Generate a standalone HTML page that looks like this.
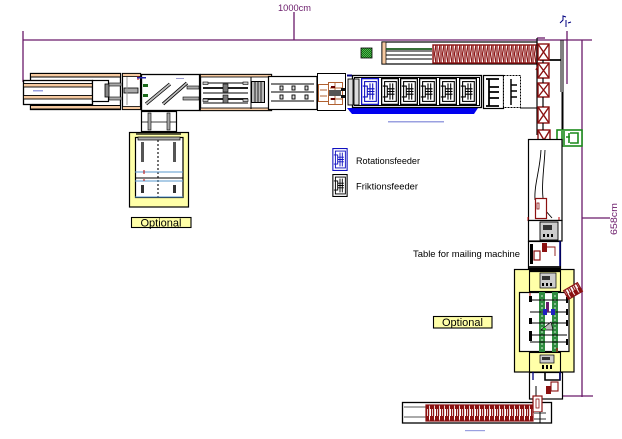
<!DOCTYPE html>
<html><head><meta charset="utf-8"><style>
html,body{margin:0;padding:0;background:#fff;}
svg{display:block;}
text{font-family:"Liberation Sans",sans-serif;}
</style></head><body>
<svg width="622" height="439" viewBox="0 0 622 439" xmlns="http://www.w3.org/2000/svg">
<defs>
<symbol id="feed" viewBox="0 0 20 30">
<rect x="0.7" y="0.7" width="18.6" height="28.6" fill="#fff" stroke="currentColor" stroke-width="1.4"/>
<rect x="4" y="4" width="13" height="22" fill="none" stroke="currentColor" stroke-width="1.2"/>
<path d="M2 9H7V21H2M7 12H15M7 15H15M7 18H15M10 6V24M13 6V24" fill="none" stroke="currentColor" stroke-width="1.2"/>
</symbol>
<pattern id="chk" width="2" height="2" patternUnits="userSpaceOnUse"><rect width="2" height="2" fill="#1a6a1a"/><rect width="1" height="1" fill="#4cc04c"/><rect x="1" y="1" width="1" height="1" fill="#4cc04c"/></pattern>
<pattern id="zig" width="4" height="18" patternUnits="userSpaceOnUse"><rect width="4" height="18" fill="#fff"/><path d="M1 0V18M2.5 0L4 9L2.5 18" stroke="#8b1111" stroke-width="1.3" fill="none"/></pattern>
<pattern id="bar" width="5" height="16" patternUnits="userSpaceOnUse"><rect width="5" height="16" fill="#fff"/><rect x="0" y="0" width="4" height="9" fill="#8b1111"/><rect x="1" y="9" width="1.2" height="7" fill="#8b1111"/><rect x="3" y="3" width="1.2" height="13" fill="#8b1111"/></pattern>
</defs>

<!-- dimension lines -->
<g stroke="#6a1a6a" stroke-width="1.3" fill="none">
<path d="M23 40H592"/>
<path d="M23 31V82"/>
<path d="M294 12V40"/>
<path d="M567 31V84"/>
<path d="M582 40V397"/>
<path d="M555 396H593"/>
<path d="M582 218H610"/>
<path d="M537 38H545"/>
</g>
<text x="278" y="11" font-size="9.5" fill="#6a1a6a" textLength="33" lengthAdjust="spacingAndGlyphs">1000cm</text>
<text x="0" y="0" font-size="9.5" fill="#6a1a6a" transform="translate(617,235) rotate(-90)" textLength="32" lengthAdjust="spacingAndGlyphs">658cm</text>
<!-- compass -->
<path d="M560 23L563 20L563 16L566 17M566 20V27M568 23L571 22" stroke="#000080" stroke-width="1" fill="none"/>

<!-- A -->
<rect x="30.5" y="73.5" width="90" height="36" fill="#fff" stroke="#000" stroke-width="1.3"/>
<rect x="30.5" y="73.5" width="90" height="3.5" fill="#f5c9a0" stroke="#000" stroke-width="1"/>
<rect x="30.5" y="105.5" width="90" height="3.5" fill="#f5c9a0" stroke="#000" stroke-width="1"/>
<rect x="23.5" y="80.5" width="69" height="24" fill="#fff" stroke="#000" stroke-width="1.3"/>
<rect x="23.5" y="83.5" width="69" height="3.5" fill="#f5c9a0" stroke="#000" stroke-width="0.9"/>
<rect x="23.5" y="95.5" width="69" height="3.5" fill="#f5c9a0" stroke="#000" stroke-width="0.9"/>
<rect x="33" y="90" width="10" height="1.5" fill="#9aa0e0"/>
<rect x="92.5" y="80.5" width="16" height="21" fill="#fff" stroke="#000" stroke-width="1.2"/>
<rect x="105" y="84" width="4" height="13" fill="#888" stroke="#000" stroke-width="0.8"/>
<rect x="109" y="83" width="12" height="3" fill="#aaa" stroke="#000" stroke-width="0.6"/>
<rect x="109" y="97" width="12" height="3" fill="#aaa" stroke="#000" stroke-width="0.6"/>
<!-- B -->
<rect x="122.5" y="73.5" width="18" height="36" fill="#fff" stroke="#000" stroke-width="1.2"/>
<rect x="122.5" y="73.5" width="18" height="3" fill="#f5c9a0" stroke="#000" stroke-width="0.8"/>
<rect x="122.5" y="106.5" width="18" height="3" fill="#f5c9a0" stroke="#000" stroke-width="0.8"/>
<rect x="124" y="88" width="14" height="5" fill="#aaa" stroke="#000" stroke-width="0.8"/>
<path d="M127 77V105" stroke="#999" stroke-width="1"/>
<path d="M138 76V80" stroke="#b00" stroke-width="1"/>
<!-- C -->
<rect x="141.5" y="74.5" width="58.5" height="36" fill="#fff" stroke="#000" stroke-width="1.3"/>
<path d="M200 74V111" stroke="#000" stroke-width="2.2"/>
<rect x="143" y="84" width="5" height="3" fill="#1a6a1a"/>
<rect x="143" y="94" width="5" height="3" fill="#1a6a1a"/>
<path d="M146 104L170 84M163 104L187 83" stroke="#000" stroke-width="3.4"/>
<path d="M146 104L170 84M163 104L187 83" stroke="#bbb" stroke-width="1.8"/>
<rect x="187" y="86" width="12" height="3" fill="#aaa" stroke="#000" stroke-width="0.6"/>
<rect x="183" y="97" width="16" height="3" fill="#aaa" stroke="#000" stroke-width="0.6"/>
<rect x="137" y="77" width="9" height="1.5" fill="#22a"/>
<rect x="176" y="78" width="8" height="1" fill="#99c"/>
<!-- D -->
<rect x="200.5" y="74.5" width="71" height="36" fill="#fff" stroke="#000" stroke-width="1.3"/>
<rect x="200.5" y="74.5" width="71" height="2.5" fill="#f5c9a0" stroke="#000" stroke-width="0.8"/>
<rect x="200.5" y="108" width="71" height="2.5" fill="#f5c9a0" stroke="#000" stroke-width="0.8"/>
<path d="M203 83H248M203 93H248M203 103H248M251 77V109" stroke="#000" stroke-width="1" fill="none"/>
<path d="M203 88H248M203 99H248" stroke="#000" stroke-width="1.8"/>
<rect x="203" y="82" width="5" height="2.5" fill="#ccc" stroke="#000" stroke-width="0.6"/>
<rect x="243" y="82" width="5" height="2.5" fill="#ccc" stroke="#000" stroke-width="0.6"/>
<rect x="203" y="99" width="5" height="2.5" fill="#ccc" stroke="#000" stroke-width="0.6"/>
<rect x="243" y="99" width="5" height="2.5" fill="#ccc" stroke="#000" stroke-width="0.6"/>
<rect x="223" y="84" width="5" height="8" fill="#777" stroke="#000" stroke-width="0.6"/>
<rect x="223" y="95" width="5" height="8" fill="#777" stroke="#000" stroke-width="0.6"/>
<rect x="251.5" y="81.5" width="13" height="21" fill="#bbb" stroke="#000" stroke-width="1"/>
<path d="M255 82V102M258 82V102M261 82V102" stroke="#222" stroke-width="1"/>
<!-- E -->
<rect x="268.5" y="76.5" width="48.5" height="33" fill="#fff" stroke="#000" stroke-width="1.2"/>
<path d="M271 84H314M271 92H314M271 101H314" stroke="#000" stroke-width="1"/>
<g fill="#ddd" stroke="#000" stroke-width="0.9">
<rect x="280" y="86" width="3" height="4"/><rect x="292" y="86" width="3" height="4"/><rect x="305" y="86" width="3" height="4"/>
<rect x="280" y="95" width="3" height="4"/><rect x="292" y="95" width="3" height="4"/><rect x="305" y="95" width="3" height="4"/>
</g>
<!-- F -->
<rect x="317.5" y="73.5" width="28" height="37" fill="#fff" stroke="#000" stroke-width="1"/>
<rect x="318.5" y="84.5" width="10" height="17" fill="none" stroke="#b06030" stroke-width="1"/>
<rect x="328.5" y="82.5" width="14" height="22" fill="none" stroke="#b06030" stroke-width="1"/>
<path d="M320 90H327M320 96H327M335 83V104M330 88H342M330 99H342" stroke="#b06030" stroke-width="0.9"/>
<rect x="329" y="90" width="12" height="6" fill="#555"/>
<rect x="331" y="86" width="4" height="2" fill="#600"/>
<rect x="331" y="98" width="4" height="2" fill="#600"/>
<rect x="341" y="88" width="4" height="3" fill="#111"/>
<rect x="341" y="95" width="4" height="3" fill="#111"/>
<!-- G feeders -->
<path d="M347 75H352M347 76H352" stroke="#000080" stroke-width="1"/>
<path d="M347 108H478L474 114H352Z" fill="#0000ee"/>
<rect x="352.5" y="75.5" width="129" height="32" fill="#fff" stroke="#000" stroke-width="1.3"/>
<rect x="354.5" y="77.5" width="125" height="28" fill="none" stroke="#000" stroke-width="1"/>
<rect x="348" y="79" width="5" height="26" fill="#ddd" stroke="#000" stroke-width="0.9"/>
<rect x="354" y="79" width="5" height="26" fill="#ddd" stroke="#000" stroke-width="0.9"/>
<use href="#feed" x="361" y="78" width="18" height="27" color="#1010c0"/>
<use href="#feed" x="381" y="78" width="18" height="27" color="#000"/>
<use href="#feed" x="400" y="78" width="18" height="27" color="#000"/>
<use href="#feed" x="419" y="78" width="18" height="27" color="#000"/>
<use href="#feed" x="439" y="78" width="18" height="27" color="#000"/>
<use href="#feed" x="459" y="78" width="18" height="27" color="#000"/>
<rect x="388" y="121" width="56" height="1.5" fill="#9aa0e0"/>
<!-- H -->
<rect x="483.5" y="75.5" width="20" height="33" fill="#fff" stroke="#000" stroke-width="1.2"/>
<path d="M486 79H499M489 79V106M486 106H499M489 87H499M489 92H499M489 98H499" stroke="#000" stroke-width="1.8"/>
<rect x="503.5" y="75.5" width="17" height="32" fill="#fff" stroke="#000" stroke-dasharray="2 1" stroke-width="1"/>
<path d="M511 79V105M511 85H517M511 91H517M511 97H517" stroke="#000" stroke-width="1.5"/>
<path d="M520 108H537" stroke="#000" stroke-width="1"/>

<!-- top long brown element -->
<rect x="382" y="42" width="155" height="22" fill="#fff" stroke="#000" stroke-width="1.2"/>
<rect x="382" y="42" width="4" height="22" fill="#f5c9a0" stroke="#000" stroke-width="0.7"/>
<path d="M386 51H432M386 55H432M386 59H432" stroke="#000" stroke-width="1"/>
<path d="M386 49H432" stroke="#1a5a1a" stroke-width="1.8"/>
<rect x="433" y="45" width="104" height="18" fill="url(#zig)" stroke="#8b1111" stroke-width="1.4"/>
<rect x="361" y="48" width="11" height="10" fill="url(#chk)" stroke="#000" stroke-width="0.8"/>

<!-- right column lines -->
<path d="M537 38V135" stroke="#000" stroke-width="1.2"/>
<path d="M561 40V92M562 92V140M563 40V130" stroke="#000" stroke-width="1"/>
<path d="M540 60L561 60" stroke="#000" stroke-width="1.8"/>
<!-- X boxes -->
<g fill="#fff" stroke="#8b1111" stroke-width="1.4">
<rect x="538" y="44" width="11" height="16"/><path d="M538 44L549 60M549 44L538 60"/>
<rect x="538" y="63" width="11" height="15"/><path d="M538 63L549 78M549 63L538 78M536 70L538 66"/>
<rect x="538" y="83" width="11" height="14"/><path d="M538 83L549 97M549 83L538 97"/>
<rect x="538" y="107" width="11" height="16"/><path d="M538 107L549 123M549 107L538 123"/>
<rect x="538" y="130" width="12" height="20"/><path d="M538 130L550 150M550 130L538 150"/>
</g>
<path d="M543 60V63M543 78V83M543 97V107M543 123V130" stroke="#000" stroke-width="1.2"/>
<!-- green element -->
<rect x="557" y="130" width="25" height="16" fill="#fff" stroke="#1a8a1a" stroke-width="1.6"/>
<path d="M562 131V145M564 131V145M566 137H570M569 133V143M570 133H578V143H570" stroke="#1a8a1a" stroke-width="1.6" fill="none"/>

<!-- right column body -->
<rect x="528.5" y="139.5" width="33.5" height="81" fill="#fff" stroke="#000" stroke-width="1.2"/>
<path d="M541 150C540 170 534 185 535 200M545 150C544 172 540 190 545 210L552 218" stroke="#000" stroke-width="0.9" fill="none"/>
<rect x="535.5" y="198.5" width="11" height="20" fill="#fff" stroke="#8b1111" stroke-width="1.2"/>
<rect x="537" y="203" width="2" height="6" fill="none" stroke="#8b1111" stroke-width="0.8"/>
<path d="M528 217V221M559 217V221" stroke="#b00" stroke-width="1"/>
<rect x="528.5" y="220.5" width="33.5" height="20.5" fill="#fff" stroke="#000" stroke-width="1.2"/>
<rect x="540" y="222" width="18" height="18" fill="#ccc" stroke="#000" stroke-width="0.9"/>
<rect x="543" y="225" width="9" height="5" fill="#333"/>
<rect x="543" y="234" width="2" height="3" fill="#000"/><rect x="547" y="234" width="2" height="3" fill="#000"/><rect x="551" y="234" width="2" height="3" fill="#000"/>
<rect x="528.5" y="241.5" width="32" height="27" fill="#fff" stroke="#000" stroke-width="1.2"/>
<rect x="530" y="244" width="3" height="20" fill="#000"/>
<rect x="534" y="251" width="6" height="9" fill="#fff" stroke="#8b1111" stroke-width="1.2"/>
<rect x="542" y="243" width="5" height="9" fill="#8b1111"/>
<path d="M547 247H555V256" stroke="#8b1111" fill="none" stroke-width="0.9"/>
<path d="M560 241V266" stroke="#000080" stroke-width="1.5"/>
<path d="M528 267H560" stroke="#000" stroke-width="1.8"/>
<text x="413" y="257" font-size="9.5" fill="#000" textLength="107" lengthAdjust="spacingAndGlyphs">Table for mailing machine</text>

<!-- right optional yellow -->
<rect x="514.5" y="269.5" width="59.5" height="102.5" fill="#ffffa8" stroke="#000" stroke-width="1.2"/>
<rect x="529.5" y="269.5" width="31" height="22" fill="#ffffa8" stroke="#000" stroke-width="1.1"/>
<path d="M529 271H560" stroke="#000" stroke-width="2.2"/>
<rect x="540" y="273" width="16" height="15" fill="#ccc" stroke="#000" stroke-width="0.7"/>
<rect x="542" y="276" width="8" height="4" fill="#333"/>
<rect x="542" y="283" width="2" height="3" fill="#000"/><rect x="546" y="283" width="2" height="3" fill="#000"/><rect x="550" y="283" width="2" height="3" fill="#000"/>
<rect x="519.5" y="292.5" width="49.5" height="59" fill="#fff" stroke="#000" stroke-width="1.2"/>
<rect x="539" y="292" width="6" height="60" fill="#2e8b3e"/>
<rect x="552" y="292" width="6" height="60" fill="#2e8b3e"/>
<path d="M542 295V350M555 295V350" stroke="#fff" stroke-width="0.8" stroke-dasharray="2 2"/>
<path d="M530 300H567M530 312H567M530 323H567M530 335H567M530 342H567" stroke="#000" stroke-width="1.1"/>
<rect x="529" y="296" width="3" height="6" fill="#000"/><rect x="529" y="318" width="3" height="6" fill="#000"/><rect x="529" y="331" width="3" height="10" fill="#000"/>
<rect x="566" y="297" width="2" height="6" fill="#000"/><rect x="566" y="309" width="2" height="6" fill="#000"/><rect x="566" y="320" width="2" height="6" fill="#000"/><rect x="566" y="339" width="2" height="6" fill="#000"/>
<rect x="546" y="302" width="3" height="10" fill="#6a1a6a"/>
<rect x="543" y="309" width="4" height="6" fill="#2020c0"/><rect x="551" y="309" width="4" height="6" fill="#2020c0"/>
<path d="M541 330L551 322L553 330Z" fill="#bbb" stroke="#000" stroke-width="0.7"/>
<rect x="543" y="328" width="3" height="2" fill="#2c2"/>
<rect x="529.5" y="352.5" width="31" height="19.5" fill="#ffffa8" stroke="#000" stroke-width="1.1"/>
<rect x="540" y="355" width="14" height="8" fill="#ccc" stroke="#000" stroke-width="0.7"/>
<rect x="542" y="357" width="8" height="3" fill="#333"/>
<rect x="542" y="365" width="2" height="4" fill="#000"/><rect x="546" y="365" width="2" height="4" fill="#000"/><rect x="550" y="365" width="2" height="4" fill="#000"/>
<g transform="translate(573,291) rotate(-30)">
<rect x="-8" y="-5" width="16" height="10" fill="url(#bar)" stroke="#8b1111" stroke-width="1.2"/>
</g>
<path d="M530 293V296M557 348V352" stroke="#b00" stroke-width="1"/>
<rect x="433.5" y="316.5" width="58.5" height="11.5" fill="#ffffa8" stroke="#000" stroke-width="1.1"/>
<text x="462.5" y="326" font-size="11" text-anchor="middle" fill="#000">Optional</text>

<!-- lower right -->
<rect x="529.5" y="372.5" width="33" height="26.5" fill="#fff" stroke="#000" stroke-width="1.2"/>
<path d="M545 373V380H560V373" stroke="#000" fill="none" stroke-width="1.6"/>
<path d="M533 372V380M560 372V380" stroke="#000080" stroke-width="1.3"/>
<rect x="551" y="382" width="7" height="9" fill="#fff" stroke="#8b1111" stroke-width="1.1"/>
<rect x="546" y="386" width="5" height="8" fill="#8b1111"/>
<path d="M536 386V400" stroke="#000" stroke-width="1"/>
<!-- bottom element -->
<rect x="402.5" y="402.5" width="149" height="20.5" fill="#fff" stroke="#000" stroke-width="1.3"/>
<path d="M404 407H426M404 417H426" stroke="#aaa" stroke-width="2"/>
<rect x="426" y="405" width="107" height="16" fill="url(#bar)" stroke="#8b1111" stroke-width="1.2"/>
<rect x="533" y="396" width="9" height="16" fill="#fff" stroke="#8b1111" stroke-width="1.2"/>
<rect x="536" y="399" width="3" height="9" fill="none" stroke="#8b1111" stroke-width="0.8"/>
<path d="M534 413H546M534 419H546" stroke="#999" stroke-width="2"/>
<path d="M540 412V423" stroke="#000" stroke-width="1"/>
<rect x="465" y="430" width="20" height="1.2" fill="#9aa0e0"/>

<!-- left optional -->
<rect x="141.5" y="111.5" width="35" height="20" fill="#fff" stroke="#000" stroke-width="1.2"/>
<path d="M141 122H176" stroke="#000" stroke-width="0.8"/>
<rect x="148" y="113" width="3" height="17" fill="#aaa" stroke="#000" stroke-width="0.6"/>
<rect x="167" y="113" width="3" height="17" fill="#aaa" stroke="#000" stroke-width="0.6"/>
<rect x="129.5" y="132.5" width="59" height="74.5" fill="#ffffa8" stroke="#000" stroke-width="1.2"/>
<rect x="135.5" y="137.5" width="47.5" height="60" fill="#fff" stroke="#000" stroke-width="1.2"/>
<path d="M136 134H181" stroke="#000" stroke-width="1.2"/>
<rect x="138" y="137" width="42" height="3" fill="#aaa" stroke="#000" stroke-width="0.7"/>
<rect x="141" y="142" width="3" height="20" fill="#555"/>
<rect x="173" y="142" width="3" height="20" fill="#555"/>
<path d="M158 140V200" stroke="#000" stroke-width="1.1" stroke-dasharray="2 2"/>
<path d="M135 172H183M135 181H183M135 197H183" stroke="#5a9acc" stroke-width="1.1"/>
<path d="M135 178H183" stroke="#000" stroke-width="1.1"/>
<rect x="141" y="185" width="3" height="8" fill="#333"/>
<rect x="173" y="185" width="3" height="8" fill="#333"/>
<path d="M144 170V174M144 179V181" stroke="#b00" stroke-width="1"/>
<rect x="131.5" y="217.5" width="59.5" height="10" fill="#ffffa8" stroke="#000" stroke-width="1.1"/>
<text x="161" y="226.5" font-size="11" text-anchor="middle" fill="#000">Optional</text>

<!-- legend -->
<use href="#feed" x="329" y="148" width="22" height="23" color="#1010c0"/>
<text x="356" y="164" font-size="9.5" fill="#000" textLength="64" lengthAdjust="spacingAndGlyphs">Rotationsfeeder</text>
<use href="#feed" x="329" y="174" width="22" height="23" color="#000"/>
<text x="356" y="189.5" font-size="9.5" fill="#000" textLength="62" lengthAdjust="spacingAndGlyphs">Friktionsfeeder</text>
</svg>
</body></html>
